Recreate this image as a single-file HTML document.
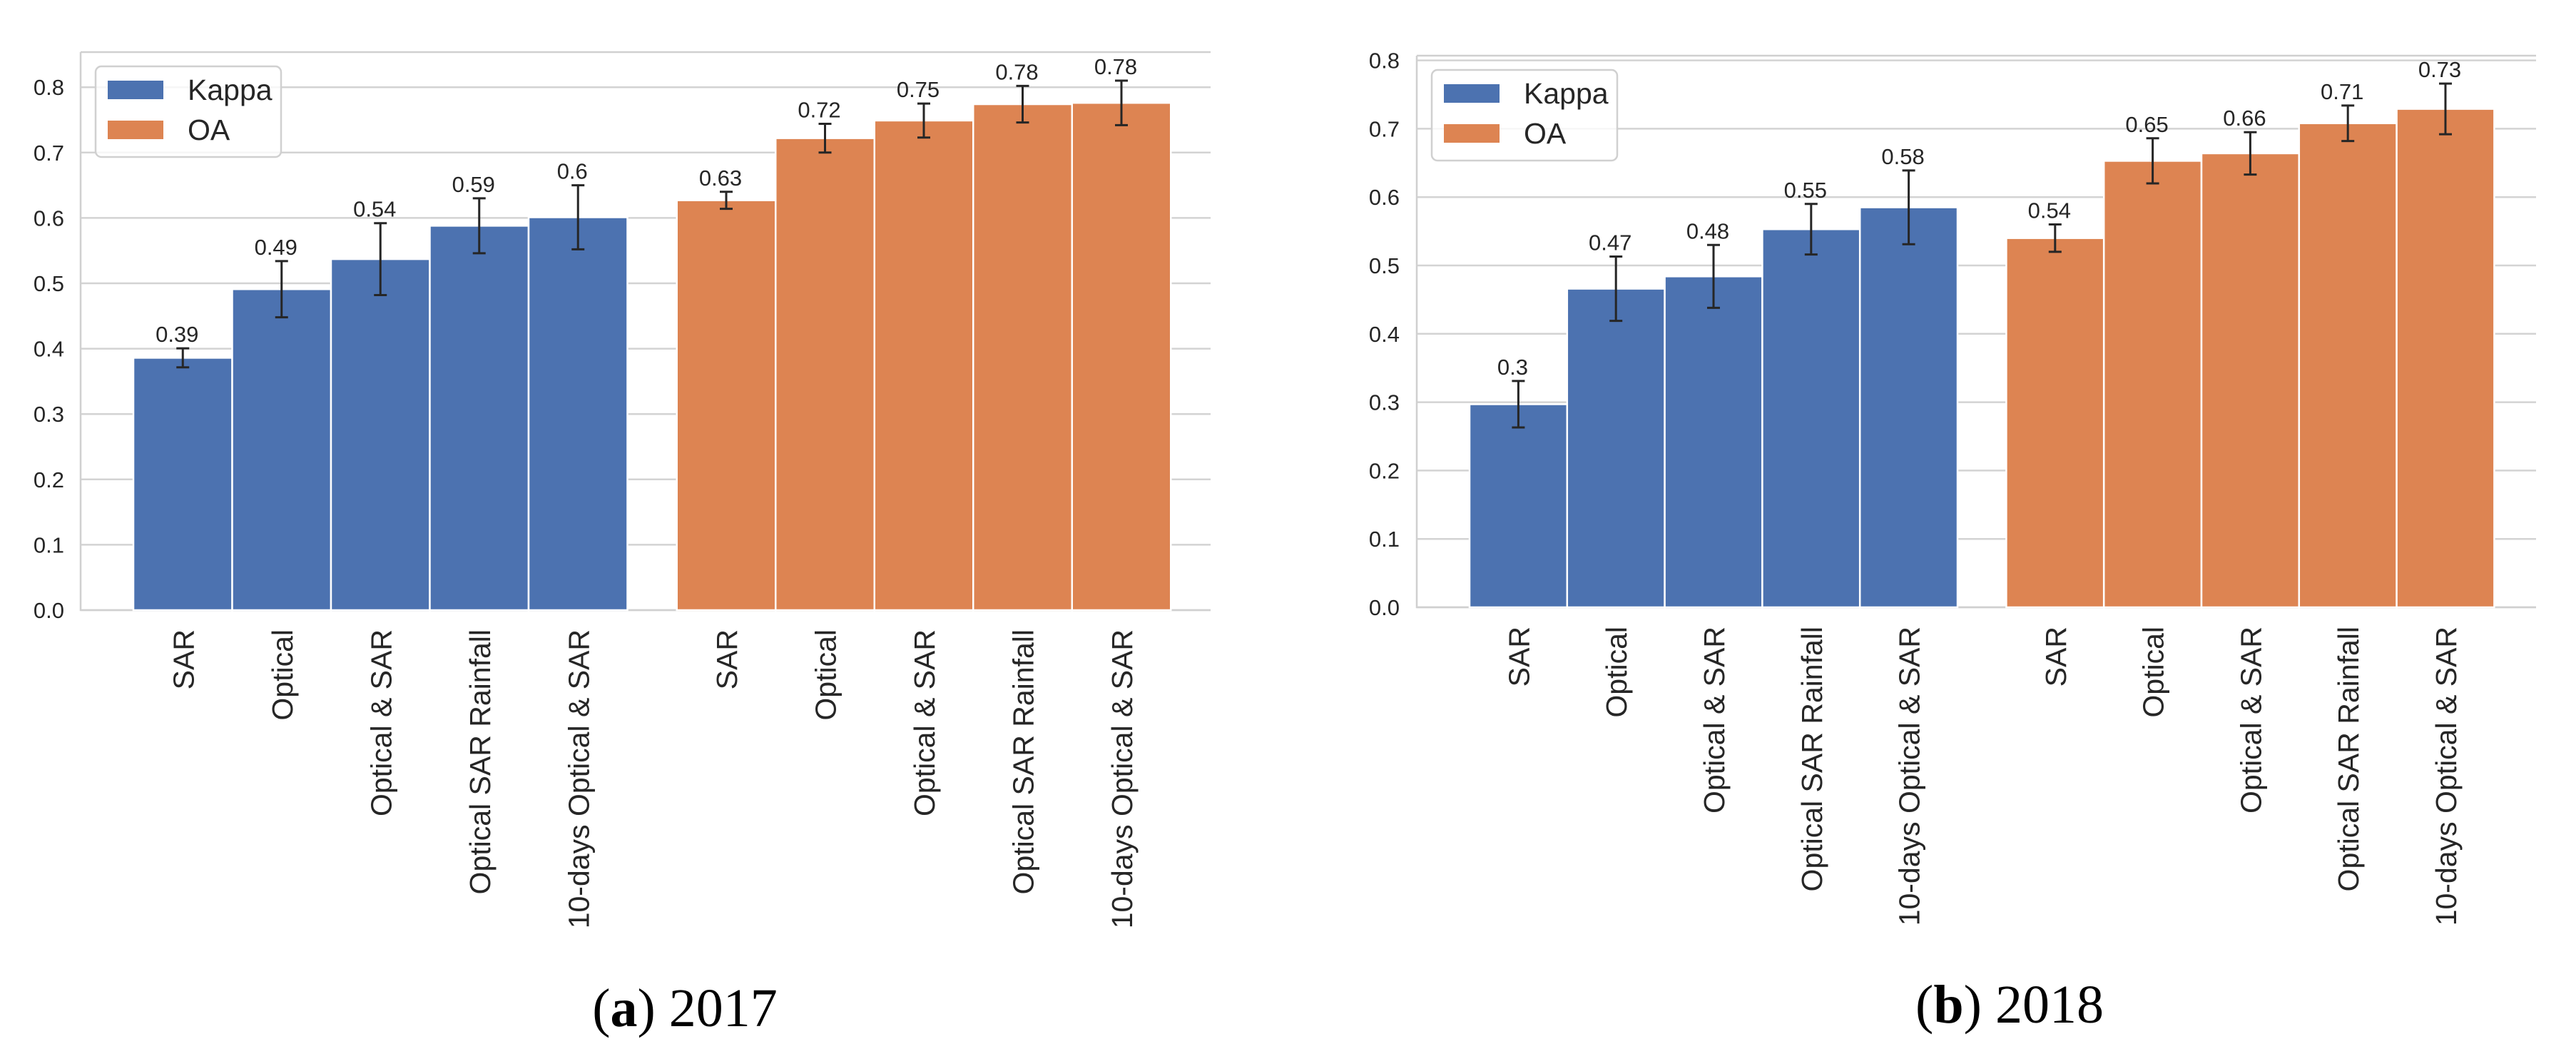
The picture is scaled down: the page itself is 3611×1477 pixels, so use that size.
<!DOCTYPE html>
<html><head><meta charset="utf-8"><style>
html,body{margin:0;padding:0;background:#fff;}
svg{display:block;}
text{font-family:"Liberation Sans",Arial,sans-serif;fill:#262626;}
.cap{font-family:"Liberation Serif","Times New Roman",serif;fill:#000;}
</style></head><body>
<svg id="fig" width="3611" height="1477" viewBox="0 0 3611 1477" xmlns="http://www.w3.org/2000/svg"></svg>
<script>
const categories = ["SAR","Optical","Optical & SAR","Optical SAR Rainfall","10-days Optical & SAR"];
const seriesNames = ["Kappa","OA"];
const yTicks = [0,0.1,0.2,0.3,0.4,0.5,0.6,0.7,0.8];
const kappa2017 = [0.386,0.491,0.537,0.588,0.601];
const kappaErr2017 = [0.0145,0.043,0.055,0.042,0.049];
const kappaLbl2017 = ["0.39","0.49","0.54","0.59","0.6"];
const oa2017 = [0.627,0.722,0.749,0.774,0.776];
const oaErr2017 = [0.013,0.022,0.026,0.028,0.034];
const oaLbl2017 = ["0.63","0.72","0.75","0.78","0.78"];
const kappa2018 = [0.297,0.466,0.484,0.553,0.585];
const kappaErr2018 = [0.034,0.047,0.046,0.037,0.054];
const kappaLbl2018 = ["0.3","0.47","0.48","0.55","0.58"];
const oa2018 = [0.540,0.653,0.664,0.708,0.729];
const oaErr2018 = [0.020,0.033,0.031,0.026,0.037];
const oaLbl2018 = ["0.54","0.65","0.66","0.71","0.73"];

const NS="http://www.w3.org/2000/svg";
const svg=document.getElementById('fig');
function mk(tag,attrs,parent,txt){const e=document.createElementNS(NS,tag);for(const k in attrs)e.setAttribute(k,attrs[k]);if(txt!==undefined)e.textContent=txt;(parent||svg).appendChild(e);return e;}

function drawChart(cfg){
  const g=mk('g',{});
  
  
  const y=v=>cfg.y0-(v/0.1)*cfg.step;
  const yMax=cfg.y0-cfg.topVal/0.1*cfg.step;
  // gridlines + ticks
  yTicks.forEach(t=>{
    const ln=mk('line',{x1:cfg.left,x2:cfg.right,y1:y(t),y2:y(t),stroke:'#d3d3d3','stroke-width':2.5},g);
    
    
    const tx=mk('text',{x:cfg.tickX,y:y(t)+11,'text-anchor':'end','font-size':31},g,t.toFixed(1));
    
    
  });
  // spines
  const sp=mk('path',{d:`M${cfg.left},${cfg.top} H${cfg.right} M${cfg.left},${cfg.top} V${cfg.y0} H${cfg.right}`,stroke:'#d0d0d0','stroke-width':2.5,fill:'none'},g);
  
  
  const groups=[[cfg.kappa,cfg.kErr,cfg.kLbl,'#4c72b0','kappa'],[cfg.oa,cfg.oErr,cfg.oLbl,'#dd8452','oa']];
  groups.forEach((grp,gi)=>{
    const [vals,errs,lbls,col,nm]=grp;
    vals.forEach((v,i)=>{
      const x=cfg.x0+(gi*5.5+i)*cfg.w;
      const r=mk('rect',{x:x,y:y(v),width:cfg.w,height:cfg.y0-y(v),fill:col,stroke:'#fff','stroke-width':2.5},g);
      
      
      const cx=x+cfg.w/2;
      const hi=y(v+errs[i]),lo=y(v-errs[i]);
      const eb=mk('path',{d:`M${cx},${hi} V${lo} M${cx-9},${hi} H${cx+9} M${cx-9},${lo} H${cx+9}`,stroke:'#262626','stroke-width':3,fill:'none'},g);
      
      
      const vl=mk('text',{x:cx-8,y:hi-9,'text-anchor':'middle','font-size':31},g,lbls[i]);
      
      
      const cl=mk('text',{transform:`translate(${cx+15},${cfg.labTop}) rotate(-90)`,'text-anchor':'end','font-size':41},g,categories[i]);
      
      
    });
  });
  // legend
  const lg=mk('g',{},g);
  
  
  mk('rect',{x:cfg.lx,y:cfg.ly,width:260,height:127,rx:8,fill:'#fff','fill-opacity':0.8,stroke:'#d0d0d0','stroke-width':2.5},lg);
  seriesNames.forEach((s,i)=>{
    const e=mk('g',{},lg);
    
    
    mk('rect',{x:cfg.lx+17,y:cfg.ly+20+i*56,width:78,height:26,fill:i?'#dd8452':'#4c72b0'},e);
    mk('text',{x:cfg.lx+129,y:cfg.ly+47+i*56,'font-size':41},e,s);
  });
  const cp=mk('text',{x:cfg.capX,y:cfg.capY,'text-anchor':'middle','font-size':76,class:'cap'});
  
  
  const t1=mk('tspan',{},cp,'(');const t2=mk('tspan',{'font-weight':'bold'},cp,cfg.letter);mk('tspan',{},cp,') '+cfg.year);
}

drawChart({name:'chart-2017',left:113,right:1697,top:73,y0:855,step:91.6,topVal:0.85,tickX:90,x0:187,w:138.5,
  kappa:kappa2017,kErr:kappaErr2017,kLbl:kappaLbl2017,oa:oa2017,oErr:oaErr2017,oLbl:oaLbl2017,
  labTop:882,lx:134,ly:93,capX:960,capY:1438,letter:'a',year:'2017'});
drawChart({name:'chart-2018',left:1986,right:3555,top:78,y0:851,step:95.8,topVal:0.8,tickX:1962,x0:2060,w:136.8,
  kappa:kappa2018,kErr:kappaErr2018,kLbl:kappaLbl2018,oa:oa2018,oErr:oaErr2018,oLbl:oaLbl2018,
  labTop:878,lx:2007,ly:98,capX:2817,capY:1433,letter:'b',year:'2018'});
</script>
</body></html>
